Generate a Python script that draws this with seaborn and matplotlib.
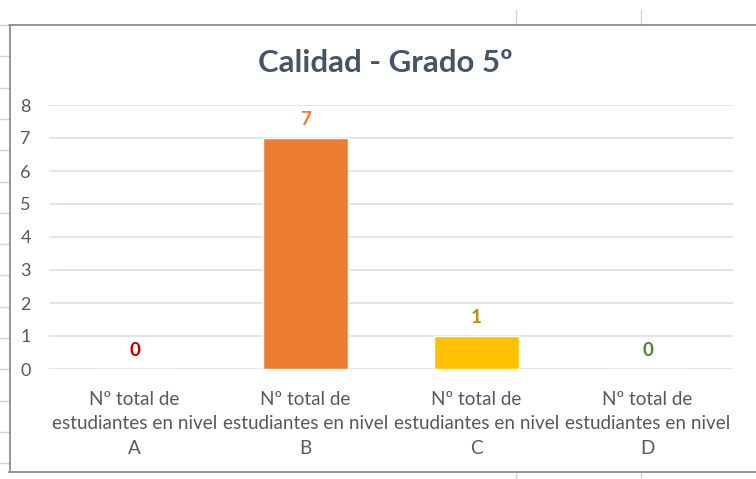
import matplotlib
matplotlib.use("Agg")
import matplotlib.pyplot as plt
import seaborn as sns
import pandas as pd
from matplotlib.lines import Line2D

categories = ["Nº total de\nestudiantes en nivel\nA",
              "Nº total de\nestudiantes en nivel\nB",
              "Nº total de\nestudiantes en nivel\nC",
              "Nº total de\nestudiantes en nivel\nD"]
values = [0, 7, 1, 0]
bar_colors = ["#C00000", "#ED7D31", "#FFC000", "#70AD47"]
label_colors = ["#C00000", "#ED7D31", "#BF9000", "#548235"]
title = "Calidad - Grado 5º"
yticks = [0, 1, 2, 3, 4, 5, 6, 7, 8]

sns.set_theme(style="white")
plt.rcParams['font.family'] = ['Lato', 'DejaVu Sans']

W, H = 756, 479
fig = plt.figure(figsize=(W / 100, H / 100), dpi=100)
fig.patch.set_facecolor("white")

def fx(px):
    return px / W

def fy(py):
    return 1 - py / H

# spreadsheet context lines
grid_c = "#D4D4D4"
for x in [516, 641]:
    fig.add_artist(Line2D([fx(x), fx(x)], [fy(10), fy(25)], color=grid_c, lw=1))
    fig.add_artist(Line2D([fx(x), fx(x)], [fy(472), fy(479)], color=grid_c, lw=1))
y = 25.0
while y < 479:
    fig.add_artist(Line2D([fx(0), fx(9)], [fy(y), fy(y)], color=grid_c, lw=1))
    y += 31.3
# chart frame
frame_c = "#8C8C8C"
fig.add_artist(Line2D([fx(9), fx(756)], [fy(25), fy(25)], color=frame_c, lw=1.3))
fig.add_artist(Line2D([fx(9), fx(756)], [fy(472), fy(472)], color=frame_c, lw=1.3))
fig.add_artist(Line2D([fx(9.5), fx(9.5)], [fy(25), fy(472)], color=frame_c, lw=1.3))

ax = fig.add_axes([fx(49), fy(369), fx(733) - fx(49), fy(105) - fy(369)])
df = pd.DataFrame({"cat": categories, "val": values})
sns.barplot(data=df, x="cat", y="val", hue="cat", palette=bar_colors,
            width=0.5, legend=False, ax=ax, saturation=1)

ax.set_ylim(0, 8)
ax.set_yticks(yticks)
ax.set_xlim(-0.5, len(categories) - 0.5)
ax.grid(axis="y", color="#D9DEE4", lw=1.1)
ax.set_axisbelow(True)
for s in ax.spines.values():
    s.set_visible(False)
ax.set_xlabel("")
ax.set_ylabel("")
ax.tick_params(axis="y", length=0, pad=13, labelsize=13, labelcolor="#595959")
ax.tick_params(axis="x", length=0, pad=15.5, labelsize=13.6, labelcolor="#595959")
for lab in ax.get_xticklabels():
    lab.set_linespacing(1.55)

for i, v in enumerate(values):
    ax.annotate(str(v), (i, v), xytext=(0, 7.5), textcoords="offset points",
                ha="center", va="bottom", fontsize=13.5, fontweight="bold",
                color=label_colors[i])

fig.text(fx(385), fy(63), title, ha="center", va="center", fontsize=22.5,
         fontweight="bold", color="#44546A")

fig.savefig("out.png", dpi=100)
